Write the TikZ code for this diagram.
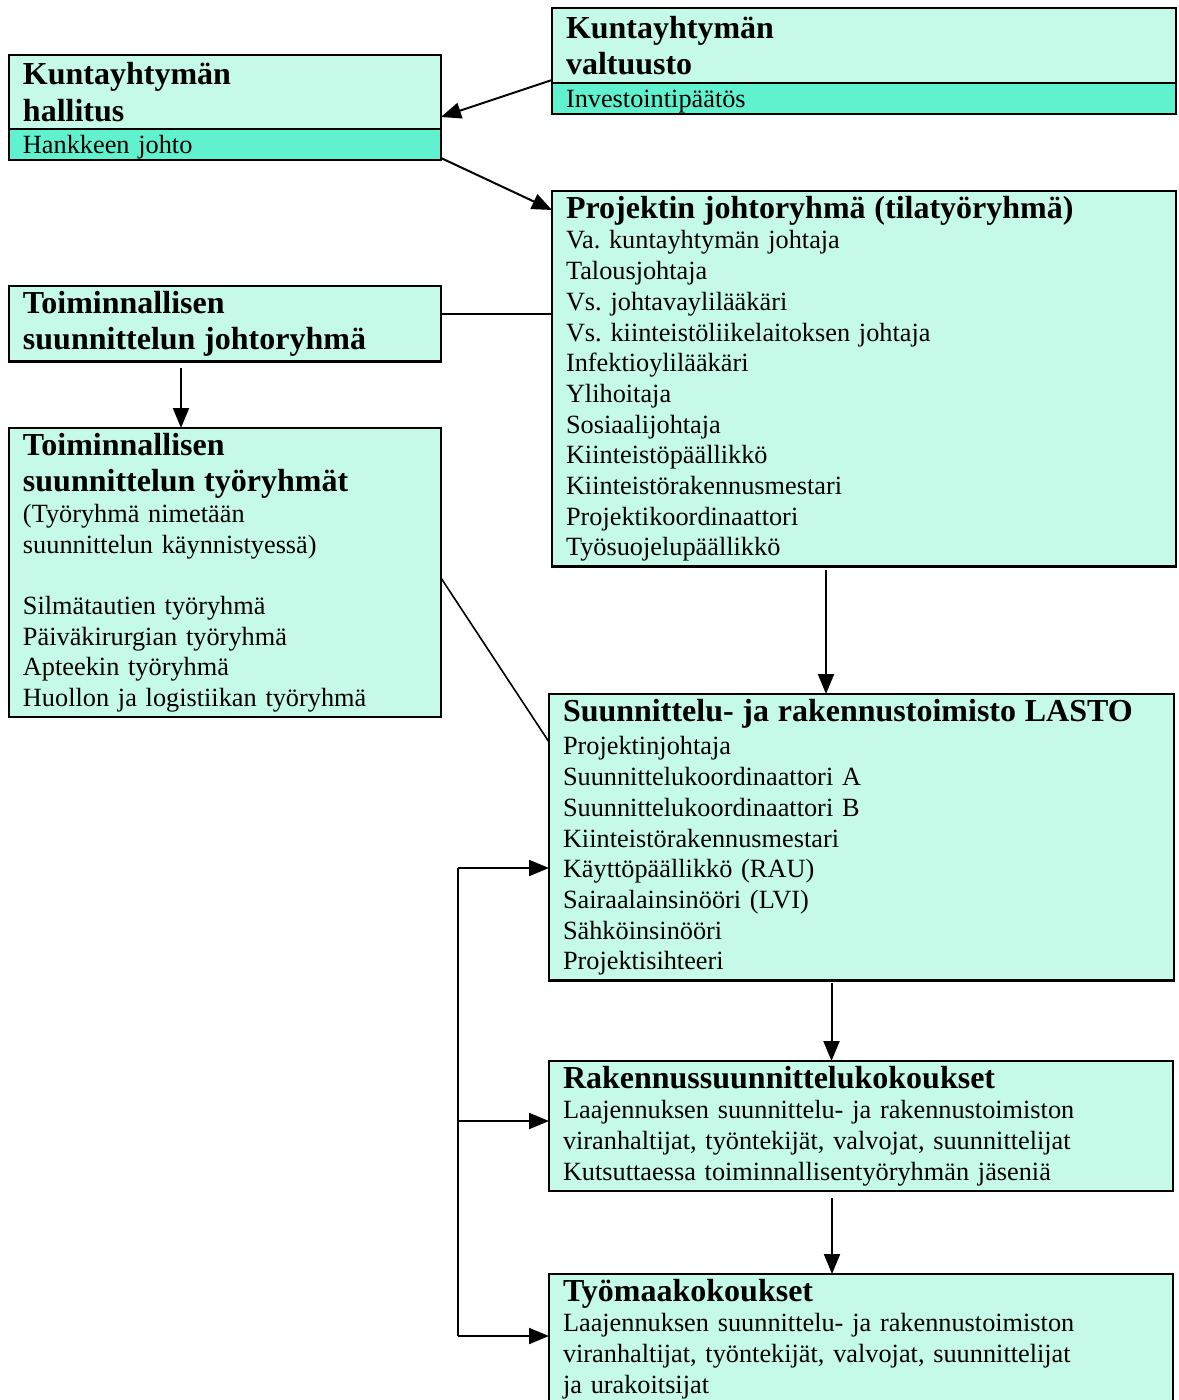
\documentclass[tikz,border=0pt]{standalone}
\usepackage{fontspec}
\setmainfont{Liberation Serif}
\usetikzlibrary{arrows.meta,positioning}

\definecolor{panelfill}{RGB}{198,250,232}
\definecolor{stripfill}{RGB}{96,242,206}
\newcommand{\headfont}{\fontsize{32}{36.5}\selectfont\bfseries}
\newcommand{\bodyfont}{\fontsize{26.3}{30.7}\selectfont}
\frenchspacing

\begin{document}
\begin{tikzpicture}[x=1pt,y=-1pt,>={Triangle[length=20pt,width=16pt]},
	panel/.style={draw,line width=2.4pt,fill=panelfill,anchor=north west,outer sep=0pt,
		inner xsep=14pt,inner ysep=5pt,align=left,font=\bodyfont},
	strip/.style={panel,fill=stripfill,inner ysep=1pt,text depth=0pt},
	link/.style={line width=2pt},
	thinlink/.style={line width=1.6pt}]

	\useasboundingbox (0,0) rectangle (1178,1400);

	% left column
	\node[panel,text width=404pt,minimum height=74pt] (hallitus) at (9,55) {\headfont Kuntayhtymän\\hallitus\par};
	\node[strip,text width=404pt,minimum height=31pt,below=0pt of hallitus] (johto) {Hankkeen johto};
	\node[panel,text width=404pt,minimum height=73pt] (tjohto) at (9,286) {\headfont Toiminnallisen\\suunnittelun johtoryhmä\par};
	\node[panel,text width=404pt] (tyo) at (9,428) {{\headfont Toiminnallisen\\suunnittelun työryhmät\par}
		(Työryhmä nimetään\\suunnittelun käynnistyessä)\\[30.7pt]
		Silmätautien työryhmä\\Päiväkirurgian työryhmä\\Apteekin työryhmä\\Huollon ja logistiikan työryhmä};

	% right column
	\node[panel,text width=596pt,minimum height=75pt] (valtuusto) at (552,8) {\headfont Kuntayhtymän\\valtuusto\par};
	\node[strip,text width=596pt,minimum height=31pt,below=0pt of valtuusto] (paatos) {Investointipäätös};
	\node[panel,text width=596pt] (proj) at (552,191) {{\headfont Projektin johtoryhmä (tilatyöryhmä)\par}
		Va. kuntayhtymän johtaja\\Talousjohtaja\\Vs. johtavaylilääkäri\\Vs. kiinteistöliikelaitoksen johtaja\\
		Infektioylilääkäri\\Ylihoitaja\\Sosiaalijohtaja\\Kiinteistöpäällikkö\\Kiinteistörakennusmestari\\
		Projektikoordinaattori\\Työsuojelupäällikkö};
	\node[panel,text width=597pt] (lasto) at (549,694) {{\headfont Suunnittelu- ja rakennustoimisto LASTO\par}\vspace{3pt}
		Projektinjohtaja\\Suunnittelukoordinaattori A\\Suunnittelukoordinaattori B\\Kiinteistörakennusmestari\\
		Käyttöpäällikkö (RAU)\\Sairaalainsinööri (LVI)\\Sähköinsinööri\\Projektisihteeri};
	\node[panel,text width=596pt] (rak) at (549,1061) {{\headfont Rakennussuunnittelukokoukset\par}
		Laajennuksen suunnittelu- ja rakennustoimiston\\viranhaltijat, työntekijät, valvojat, suunnittelijat\\
		Kutsuttaessa toiminnallisentyöryhmän jäseniä};
	\node[panel,text width=596pt] (tyom) at (549,1274) {{\headfont Työmaakokoukset\par}
		Laajennuksen suunnittelu- ja rakennustoimiston\\viranhaltijat, työntekijät, valvojat, suunnittelijat\\
		ja urakoitsijat\\[4pt]};

	% connectors
	\draw[->,link] ([yshift=3pt]valtuusto.south west) -- ([yshift=12pt]hallitus.south east);
	\draw[->,link] ([yshift=2pt]johto.south east) -- ([yshift=-19pt]proj.north west);

	\coordinate (tap) at ([yshift=10pt]tjohto.east);
	\draw[thinlink] (tap) -- (tap -| proj.west);
	\draw[->,link] ([xshift=-44pt,yshift=-6pt]tjohto.south) -- ([xshift=-44pt]tyo.north);
	\draw[thinlink] ([yshift=-150pt]tyo.north east) -- ([yshift=-48pt]lasto.north west);

	\coordinate (p1) at ([xshift=-38pt,yshift=-3pt]proj.south);
	\draw[->,link] (p1) -- (p1 |- lasto.north);
	\coordinate (l1) at ([xshift=-30pt,yshift=-3pt]lasto.south);
	\draw[->,link] (l1) -- (l1 |- rak.north);
	\coordinate (r1) at ([xshift=-29pt,yshift=-7pt]rak.south);
	\draw[->,link] (r1) -- (r1 |- tyom.north);

	% feed from the left
	\coordinate (rail) at (458,0);
	\coordinate (b1) at ([yshift=-174pt]lasto.north west);
	\coordinate (b2) at ([yshift=-60pt]rak.north west);
	\coordinate (b3) at ([yshift=-62pt]tyom.north west);
	\draw[link] (rail |- b1) -- (rail |- b3);
	\draw[->,link] (rail |- b1) -- (b1);
	\draw[->,link] (rail |- b2) -- (b2);
	\draw[->,link] (rail |- b3) -- (b3);
\end{tikzpicture}
\end{document}
